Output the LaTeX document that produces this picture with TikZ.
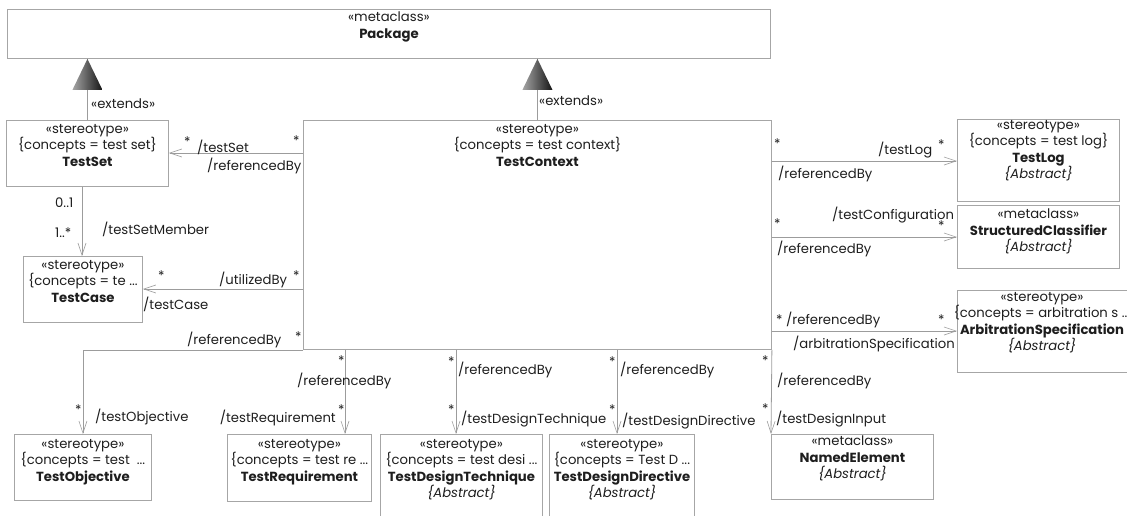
\documentclass[tikz,border=0pt]{standalone}
\usepackage{fontspec}
\setmainfont{Poppins}
\usetikzlibrary{arrows.meta,calc}
\definecolor{edgegray}{HTML}{9C9C9C}
\definecolor{boxgray}{HTML}{A6A6A6}
\definecolor{ink}{HTML}{1E1E1E}
\begin{document}
\begin{tikzpicture}[x=1pt,y=-1pt,
  every node/.style={text=ink, inner sep=0pt, font=\fontsize{13.2}{16.4}\selectfont},
  cls/.style={draw=boxgray, line width=0.9pt, fill=white, anchor=north west},
  ctext/.style={anchor=north, align=center},
  lbl/.style={anchor=west},
  assoc/.style={draw=edgegray, line width=0.8pt, -{Straight Barb[length=12pt,width=8pt,line width=0.6pt]}},
  plain/.style={draw=edgegray, line width=0.8pt},
  gen/.style={left color=black!35, right color=black!92}
]
\useasboundingbox (0,0) rectangle (1127,515);

% class boxes
\node[cls, minimum width=763pt, minimum height=49pt] (pkg) at (7,9) {};
\node[cls, minimum width=162pt, minimum height=66pt] (tset) at (6,120) {};
\node[cls, minimum width=468pt, minimum height=229pt] (tc) at (303,120) {};
\node[cls, minimum width=119pt, minimum height=66pt] (tcase) at (23,256) {};
\node[cls, minimum width=162pt, minimum height=82pt] (tlog) at (957,119) {};
\node[cls, minimum width=162pt, minimum height=63pt] (sclass) at (957,205) {};
\node[cls, minimum width=176pt, minimum height=82pt] (arb) at (957,290) {};
\node[cls, minimum width=162pt, minimum height=65pt] (named) at (771,434) {};
\node[cls, minimum width=137pt, minimum height=66pt] (tobj) at (14,434) {};
\node[cls, minimum width=144pt, minimum height=67pt] (treq) at (227,434) {};
\node[cls, minimum width=162pt, minimum height=95pt] (tdt) at (380,434) {};
\node[cls, minimum width=145pt, minimum height=95pt] (tdd) at (549,434) {};

% box contents
\node[ctext] (pkg-t) at ($(pkg.north)+(0,3)$) {«metaclass»\\\textbf{Package}};
\node[ctext] (tset-t) at ($(tset.north)+(0,4)$) {«stereotype»\\\{concepts = test set\}\\\textbf{TestSet}};
\node[ctext] (tc-t) at ($(tc.north)+(0,4)$) {«stereotype»\\\{concepts = test context\}\\\textbf{TestContext}};
\node[ctext] (tcase-t) at ($(tcase.north)+(0,4)$) {«stereotype»\\\{concepts = te ...\\\textbf{TestCase}};
\node[ctext] (tlog-t) at ($(tlog.north)+(0,1)$) {«stereotype»\\\{concepts = test log\}\\\textbf{TestLog}\\\textit{\{Abstract\}}};
\node[ctext] (sclass-t) at ($(sclass.north)+(0,4)$) {«metaclass»\\\textbf{StructuredClassifier}\\\textit{\{Abstract\}}};
\node[ctext] (arb-t) at ($(arb.north west)+(85,2)$) {«stereotype»\\\{concepts = arbitration s ...\\\textbf{ArbitrationSpecification}\\\textit{\{Abstract\}}};
\node[ctext] (named-t) at ($(named.north)+(0,2)$) {«metaclass»\\\textbf{NamedElement}\\\textit{\{Abstract\}}};
\node[ctext] (tobj-t) at ($(tobj.north)+(0,5)$) {«stereotype»\\\{concepts = test\ \ ...\\\textbf{TestObjective}};
\node[ctext] (treq-t) at ($(treq.north)+(0,5)$) {«stereotype»\\\{concepts = test re ...\\\textbf{TestRequirement}};
\node[ctext] (tdt-t) at ($(tdt.north)+(0,5)$) {«stereotype»\\\{concepts = test desi ...\\\textbf{TestDesignTechnique}\\\textit{\{Abstract\}}};
\node[ctext] (tdd-t) at ($(tdd.north)+(0,5)$) {«stereotype»\\\{concepts = Test D ...\\\textbf{TestDesignDirective}\\\textit{\{Abstract\}}};

% extension links to Package
\draw[plain] (tset.north) -- (tset.north |- pkg.south);
\draw[plain] (tc.north) -- (tc.north |- pkg.south);
\shade[gen] (tset.north |- pkg.south) -- ++(-15,31) -- ++(30,0) -- cycle;
\shade[gen] (tc.north |- pkg.south) -- ++(-15,31) -- ++(30,0) -- cycle;
\node[lbl] (ext1) at (91,104) {«extends»};
\node[lbl] (ext2) at (539,101) {«extends»};

% associations
\draw[assoc] ($(tc.north west)+(0,33)$) -- ($(tset.north east)+(0,33)$);
\draw[assoc] ($(tset.south west)+(76,0)$) -- ($(tcase.north west)+(59,0)$);
\draw[assoc] ($(tc.north west)+(0,169)$) -- ($(tcase.north east)+(0,33)$);
\draw[assoc] (tc.south west) -| (tobj.north);
\draw[assoc] ($(tc.south west)+(42,0)$) -- ($(treq.north west)+(118,0)$);
\draw[assoc] ($(tc.south west)+(153,0)$) -- ($(tdt.north west)+(76,0)$);
\draw[assoc] ($(tc.south west)+(314,0)$) -- ($(tdd.north west)+(68,0)$);
\draw[assoc] (tc.south east) -- (named.north west);
\draw[assoc] ($(tc.north east)+(0,41)$) -- ($(tlog.north west)+(0,42)$);
\draw[assoc] ($(tc.north east)+(0,117)$) -- ($(sclass.north west)+(0,32)$);
\draw[assoc] ($(tc.north east)+(0,211)$) -- ($(arb.north west)+(0,41)$);

% association end labels
\node[lbl] (l1) at (184,142) {*};
\node[lbl] (l2) at (197,147) {/testSet};
\node[lbl] (l3) at (293,141) {*};
\node[lbl] (l4) at (207,166) {/referencedBy};
\node[lbl] (l5) at (55,203) {0..1};
\node[lbl] (l6) at (55,233) {1..*};
\node[lbl] (l7) at (102,229) {/testSetMember};
\node[lbl] (l8) at (158,276) {*};
\node[lbl] (l9) at (219,280) {/utilizedBy};
\node[lbl] (l10) at (293,276) {*};
\node[lbl] (l11) at (143,304) {/testCase};
\node[lbl] (l12) at (187,340) {/referencedBy};
\node[lbl] (l13) at (295,337) {*};
\node[lbl] (l14) at (338,361) {*};
\node[lbl] (l15) at (297,381) {/referencedBy};
\node[lbl] (l16) at (75,410) {*};
\node[lbl] (l17) at (95,417) {/testObjective};
\node[anchor=east] (l18) at (336,418) {/testRequirement};
\node[lbl] (l19) at (338,410) {*};
\node[lbl] (l20) at (448,362) {*};
\node[lbl] (l21) at (458,370) {/referencedBy};
\node[lbl] (l22) at (448,410) {*};
\node[lbl] (l23) at (461,419) {/testDesignTechnique};
\node[lbl] (l24) at (609,362) {*};
\node[lbl] (l25) at (620,370) {/referencedBy};
\node[lbl] (l26) at (609,410) {*};
\node[lbl] (l27) at (622,421) {/testDesignDirective};
\node[lbl] (l28) at (762,361) {*};
\node[lbl] (l29) at (777,381) {/referencedBy};
\node[lbl] (l30) at (762,409) {*};
\node[lbl] (l31) at (776,419) {/testDesignInput};
\node[lbl] (l32) at (774,144) {*};
\node[lbl] (l33) at (878,150) {/testLog};
\node[lbl] (l34) at (938,145) {*};
\node[lbl] (l35) at (778,174) {/referencedBy};
\node[lbl] (l36) at (832,215) {/testConfiguration};
\node[lbl] (l37) at (774,224) {*};
\node[lbl] (l38) at (938,226) {*};
\node[lbl] (l39) at (777,249) {/referencedBy};
\node[lbl] (l40) at (776,320) {* /referencedBy};
\node[lbl] (l41) at (938,320) {*};
\node[lbl] (l42) at (793,344) {/arbitrationSpecification};
\end{tikzpicture}
\end{document}
